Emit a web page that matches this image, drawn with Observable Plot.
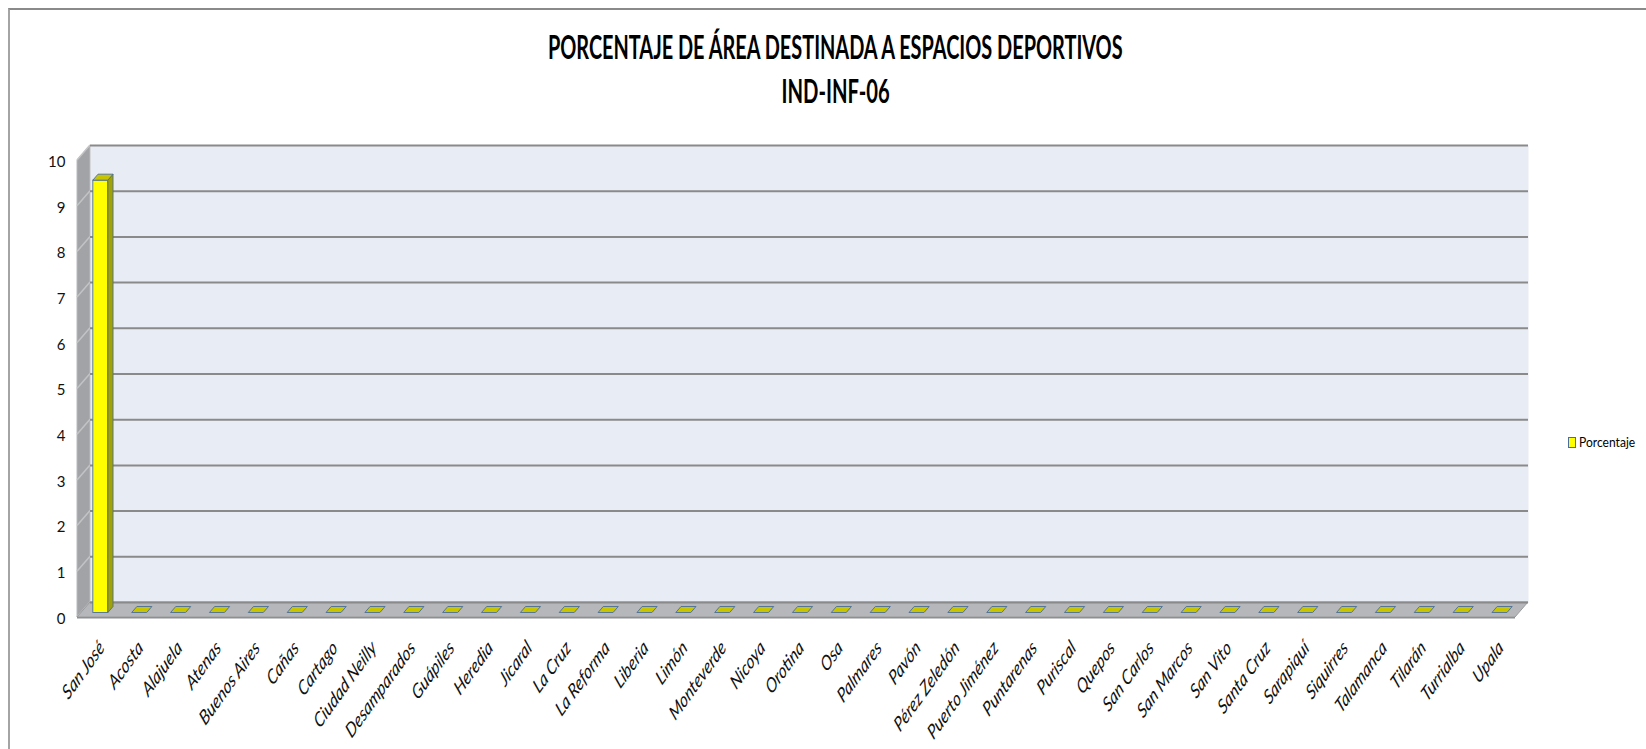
<!DOCTYPE html>
<html>
<head>
<meta charset="utf-8">
<script src="https://cdn.jsdelivr.net/npm/d3@7"></script>
<script src="https://cdn.jsdelivr.net/npm/@observablehq/plot@0.6"></script>
<style>
  html, body { margin: 0; padding: 0; background: #fff; }
  #page { position: relative; width: 1646px; height: 749px; overflow: hidden; font-family: Lato, "Open Sans", "Liberation Sans", sans-serif; }
  #border { position: absolute; left: 8px; top: 8px; width: 1650px; height: 760px; border-top: 2px solid #8a8a8a; border-left: 2px solid #a4a4a4; pointer-events: none; }
  #head { position: relative; height: 120px; }
  .tline { position: absolute; left: 0; width: 1671px; text-align: center; font-weight: 700; font-size: 32px; line-height: 32px; white-space: nowrap; color: #000; }
  .tline span { display: inline-block; transform-origin: center center; }
  #legend { position: absolute; left: 1568px; top: 435px; height: 14px; display: flex; align-items: center; font-size: 14px; line-height: 14px; white-space: nowrap; }
  #legend .sw { width: 6px; height: 9px; background: #ffff00; border: 1px solid #4a6e9b; }
  #legend .lt { display: inline-block; transform-origin: left center; margin-left: 3px; }
  #chart svg { display: block; }
</style>
</head>
<body>
<div id="page">
  <div id="head">
    <div class="tline" id="t1" style="top:31px"><span></span></div>
    <div class="tline" id="t2" style="top:75px"><span></span></div>
  </div>
  <div id="chart"></div>
  <div id="legend"><div class="sw"></div><span class="lt"></span></div>
  <div id="border"></div>
</div>
<script>
// ---- data ----
const titulo = "PORCENTAJE DE ÁREA DESTINADA A ESPACIOS DEPORTIVOS";
const subtitulo = "IND-INF-06";
const serie = "Porcentaje";
const cantones = ["San José", "Acosta", "Alajuela", "Atenas", "Buenos Aires", "Cañas", "Cartago",
  "Ciudad Neilly", "Desamparados", "Guápiles", "Heredia", "Jicaral", "La Cruz", "La Reforma",
  "Liberia", "Limón", "Monteverde", "Nicoya", "Orotina", "Osa", "Palmares", "Pavón",
  "Pérez Zeledón", "Puerto Jiménez", "Puntarenas", "Puriscal", "Quepos", "San Carlos",
  "San Marcos", "San Vito", "Santa Cruz", "Sarapiquí", "Siquirres", "Talamanca", "Tilarán",
  "Turrialba", "Upala"];
const porcentaje = [9.46, 0, 0, 0, 0, 0, 0, 0, 0, 0, 0, 0, 0, 0, 0, 0, 0, 0, 0, 0, 0, 0,
  0, 0, 0, 0, 0, 0, 0, 0, 0, 0, 0, 0, 0, 0, 0];
const yTicks = [0, 1, 2, 3, 4, 5, 6, 7, 8, 9, 10];

const rows = cantones.map((c, i) => ({canton: c, valor: porcentaje[i]}));

// ---- 3D look parameters (pixels) ----
const W = 1646, H = 629;
const ML = 90, MR = 118, MT = 25, MB = 147;
const DX = -13, DY = 15;      // depth vector of the floor
const D0 = 0.3, D1 = 0.7;     // bar depth span
const BAR_W = 15;
const BW = (W - ML - MR) / cantones.length;
const INSET = (BW - BAR_W) / 2;
const SQUEEZE = 0.72;

const poly = pts => "M" + pts.map(p => p.map(v => v.toFixed(2)).join(",")).join("L") + "Z";

// walls + floor
function walls(index, scales, values, dims) {
  const y = scales.y;
  const x0 = dims.marginLeft, x1 = dims.width - dims.marginRight;
  const yb = y(0), yt = y(10);
  const g = d3.create("svg:g");
  g.append("path").attr("d", poly([[x0, yt], [x0, yb], [x0 + DX, yb + DY], [x0 + DX, yt + DY]]))
    .attr("fill", "#a1a3a7").attr("stroke", "#b9babc").attr("stroke-width", 1);
  for (const t of yTicks) {
    g.append("line").attr("x1", x0).attr("y1", y(t)).attr("x2", x0 + DX).attr("y2", y(t) + DY)
      .attr("stroke", "#c2c3c5").attr("stroke-width", 1.5);
  }
  g.append("path").attr("d", poly([[x0, yb], [x1, yb], [x1 + DX, yb + DY], [x0 + DX, yb + DY]]))
    .attr("fill", "#b5b7ba").attr("stroke", "#9a9b9d").attr("stroke-width", 1);
  g.append("path").attr("d", poly([[x0 + DX, yb + DY], [x1 + DX, yb + DY], [x1 + DX, yb + DY + 1.5], [x0 + DX, yb + DY + 1.5]]))
    .attr("fill", "#8e8f91");
  return g.node();
}

// bar side and top faces (the flat tops of zero bars included)
function bars3d(index, scales, values, dims) {
  const x = scales.x, y = scales.y, bw = x.bandwidth();
  const g = d3.create("svg:g").attr("stroke", "#4a6e9b").attr("stroke-width", 0.9).attr("stroke-linejoin", "round");
  rows.forEach(d => {
    const cx = x(d.canton) + bw / 2, l = cx - BAR_W / 2, r = cx + BAR_W / 2;
    const yv = y(d.valor), y0 = y(0);
    if (d.valor > 0) {
      g.append("path").attr("d", poly([[r + DX * D1, yv + DY * D1], [r + DX * D0, yv + DY * D0], [r + DX * D0, y0 + DY * D0], [r + DX * D1, y0 + DY * D1]]))
        .attr("fill", "#a3a300");
    }
    g.append("path").attr("d", poly([[l + DX * D1, yv + DY * D1], [r + DX * D1, yv + DY * D1], [r + DX * D0, yv + DY * D0], [l + DX * D0, yv + DY * D0]]))
      .attr("fill", "#c8c400");
  });
  return g.node();
}

const chart = Plot.plot({
  width: W, height: H,
  marginLeft: ML, marginRight: MR, marginTop: MT, marginBottom: MB,
  style: {background: "transparent", fontFamily: "Lato, 'Open Sans', sans-serif", overflow: "visible"},
  x: {type: "band", domain: cantones, padding: 0, axis: null},
  y: {domain: [0, 10], axis: null},
  marks: [
    Plot.frame({fill: "#e8ecf4", stroke: null}),
    walls,
    Plot.ruleY(yTicks, {stroke: "#8a8a8a", strokeWidth: 2}),
    Plot.barY(rows.filter(d => d.valor > 0), {
      x: "canton", y: "valor", fill: "#ffff00", stroke: "#4a6e9b", strokeWidth: 0.9,
      insetLeft: INSET, insetRight: INSET, dx: DX * D1, dy: DY * D1
    }),
    bars3d,
    Plot.text(yTicks, {
      y: d => d, text: d => String(d), frameAnchor: "left", textAnchor: "end", lineAnchor: "middle",
      dx: -25, dy: 16.5, fontSize: 15, fill: "#111"
    }),
    Plot.text(rows, {
      x: "canton", text: "canton", frameAnchor: "bottom", textAnchor: "end", lineAnchor: "middle",
      rotate: -45, fontStyle: "italic", fontSize: 20.5, dx: -8, dy: 42, fill: "#111"
    })
  ]
});
document.getElementById("chart").appendChild(chart);

// squeeze the rotated category labels horizontally like the reference
chart.querySelectorAll("text").forEach(t => {
  const tr = t.getAttribute("transform");
  if (tr && tr.includes("rotate(")) t.setAttribute("transform", tr.replace("rotate(", `scale(${SQUEEZE},1) rotate(`));
});

// titles and legend (HTML)
function fit(el, text, target) {
  el.textContent = text;
  const w = el.offsetWidth;
  el.style.transform = `scaleX(${target / w})`;
}
fit(document.querySelector("#t1 span"), titulo, 575);
fit(document.querySelector("#t2 span"), subtitulo, 108);
fit(document.querySelector("#legend .lt"), serie, 56);
</script>
</body>
</html>
